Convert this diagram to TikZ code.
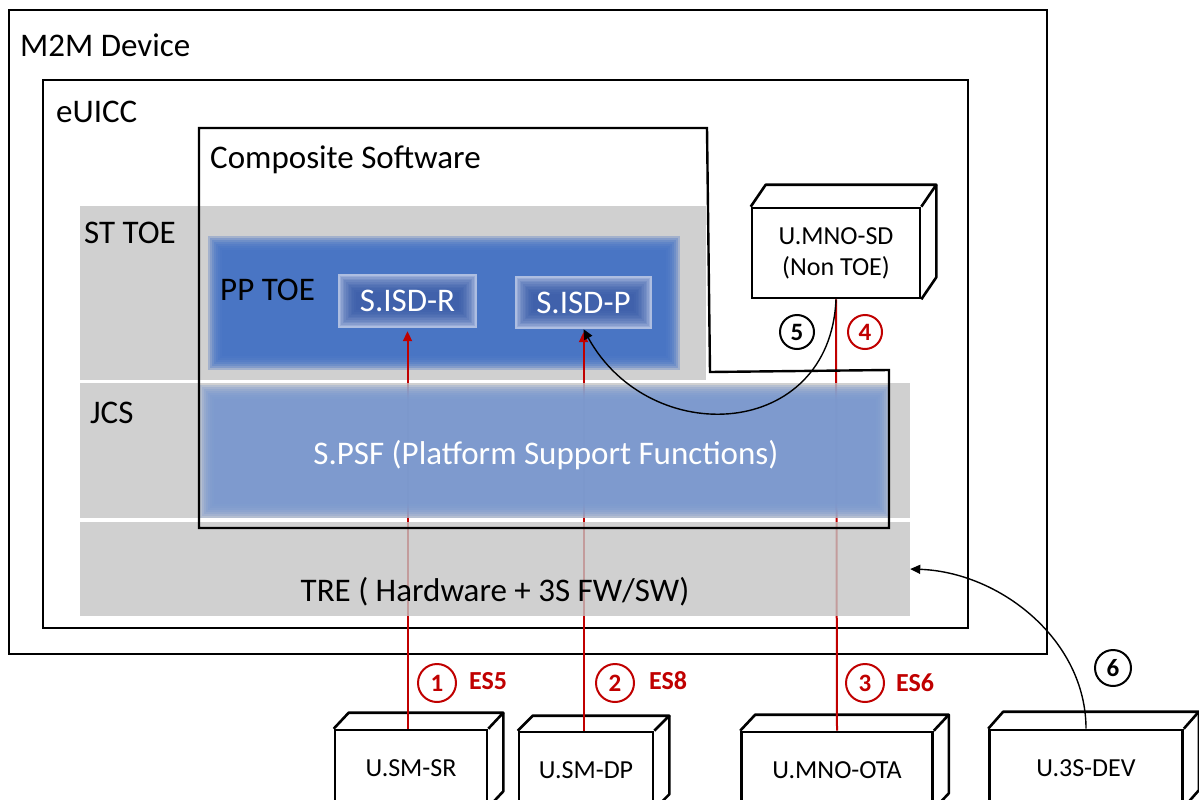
\documentclass[tikz,border=0pt]{standalone}
\usepackage{fontspec}
\setmainfont{Carlito}
\usetikzlibrary{arrows.meta}

\definecolor{esred}{RGB}{192,0,0}
\definecolor{bandgray}{RGB}{196,196,196}
\definecolor{ppblue}{RGB}{68,114,196}
\definecolor{psfblue}{RGB}{122,152,208}
\definecolor{isdedge}{RGB}{200,212,238}
\definecolor{isdblue}{RGB}{50,86,166}

\begin{document}
\begin{tikzpicture}[x=1pt,y=-1pt,
    lbl/.style={font=\fontsize{33}{36}\selectfont, inner sep=0pt},
    band/.style={fill=bandgray, fill opacity=0.8, inner sep=0pt, draw=none},
    devbox/.style={draw, line width=2.6pt, fill=white, inner sep=0pt,
      font=\fontsize{26}{31}\selectfont, align=center},
    num/.style={circle, draw, line width=2pt, minimum size=#1, inner sep=0pt,
      font=\bfseries\fontsize{25}{25}\selectfont},
    num/.default=36,
    es/.style={text=esred, font=\bfseries\fontsize{26}{26}\selectfont, inner sep=0pt},
    esline/.style={esred, line width=2pt},
    flow/.style={line width=1.4pt, -{Triangle[length=10pt,width=9pt]}}]
  \useasboundingbox (0,0) rectangle (1199,800);
  \clip (0,0) rectangle (1199,800);

  % containers
  \draw[line width=2.8pt] (9,10) rectangle (1047,654);
  \draw[line width=2.8pt] (43,80) rectangle (968,628);

  % the 3D boxes
  \node (mnosd) [devbox, minimum width=168, minimum height=90] at (836,253) {U.MNO-SD\\(Non TOE)};
  \node (sr) [devbox, minimum width=152, minimum height=76] at (411,768) {U.SM-SR};
  \node (dp) [devbox, minimum width=134, minimum height=76] at (586,770) {U.SM-DP};
  \node (ota) [devbox, minimum width=191, minimum height=76] at (837,770) {U.MNO-OTA};
  \node (dev) [devbox, minimum width=193, minimum height=76] at (1086,768) {U.3S-DEV};
  \foreach \n/\dy in {mnosd/22, sr/16, dp/15, ota/16, dev/17} {
    \draw[line width=2.6pt, line join=round] (\n.north west) -- ++(15,-\dy)
      -- ([shift={(15,-\dy)}]\n.north east) -- (\n.north east);
    \draw[line width=2.6pt, line join=round] ([shift={(15,-\dy)}]\n.north east)
      -- ([shift={(15,-\dy)}]\n.south east) -- (\n.south east);
  }

  % ST TOE and PP TOE
  \node (sttoe) [band, minimum width=626, minimum height=174] at (393,293) {};
  \foreach \i in {0,...,7}
    \fill[ppblue, fill opacity=0.32] (208+2*\i,236+2*\i) rectangle (680-2*\i,370-2*\i);
  \fill[isdedge] (338,274) rectangle (477,328);
  \fill[isdedge] (515,276) rectangle (652,329);
  \foreach \i in {0,...,11} {
    \fill[isdblue, fill opacity=0.17] (338+1.6*\i,274+1.6*\i) rectangle (477-1.6*\i,328-1.6*\i);
    \fill[isdblue, fill opacity=0.17] (515+1.6*\i,276+1.6*\i) rectangle (652-1.6*\i,329-1.6*\i);
  }
  \node (isdr) [lbl, text=white, minimum width=139, minimum height=54] at (407.5,301) {S.ISD-R};
  \node (isdp) [lbl, text=white, minimum width=137, minimum height=53] at (583.5,302.5) {S.ISD-P};

  % interfaces
  \draw[esline, -{Triangle[length=10pt,width=9pt]}, shorten >=3pt] (isdr.south |- sr.north) -- (isdr.south);
  \draw[esline, -{Triangle[length=10pt,width=9pt]}, shorten >=3pt] (isdp.south |- dp.north) -- (isdp.south);
  \draw[esline] (ota.north) -- (mnosd.south);

  % JCS, TRE and S.PSF
  \node (jcs) [band, minimum width=830, minimum height=135] at (495,450.5) {};
  \node (tre) [band, minimum width=830, minimum height=94] at (495,569) {};
  \foreach \i in {0,...,7}
    \fill[psfblue, fill opacity=0.3] (200+2*\i,385+2*\i) rectangle (890-2*\i,518-2*\i);

  \draw[line width=2.4pt] (199,128) -- (707,128) -- (710,372) -- (889,370)
    -- (889,528) -- (199,528) -- cycle;

  % labels
  \node (lblm2m) [lbl, anchor=base west] at (20,57) {M2M Device};
  \node (lbleuicc) [lbl, anchor=base west] at (56,122) {eUICC};
  \node (lblcomp) [lbl, anchor=base west] at (210,168) {Composite Software};
  \node (lblsttoe) [lbl, anchor=base west] at (84,243) {ST TOE};
  \node (lblpptoe) [lbl, anchor=base west] at (220,300) {PP TOE};
  \node (lbljcs) [lbl, anchor=base west] at (90,423) {JCS};
  \node (lblpsf) [lbl, anchor=base, text=white] at (546,464) {S.PSF (Platform Support Functions)};
  \node (lbltre) [lbl, anchor=base] at (495,601) {TRE ( Hardware + 3S FW/SW)};

  % flows
  \draw[flow] (mnosd.south) .. controls (830,440) and (650,450) .. (isdp.south);
  \draw[flow] (dev.north) .. controls (1086,640) and (1000,572) .. (tre.east);

  \node (c1) [num=38, esred] at (437,683) {1};
  \node (c2) [num=38, esred] at (615,683) {2};
  \node (c3) [num=38, esred] at (865,683) {3};
  \node (c4) [num=34, esred] at (865,332) {4};
  \node (c5) [num=34] at (797,332) {5};
  \node (c6) [num=36] at (1113,668) {6};
  \node (es5) [es] at (488,681) {ES5};
  \node (es8) [es] at (668,681) {ES8};
  \node (es6) [es] at (915,683) {ES6};
\end{tikzpicture}
\end{document}
